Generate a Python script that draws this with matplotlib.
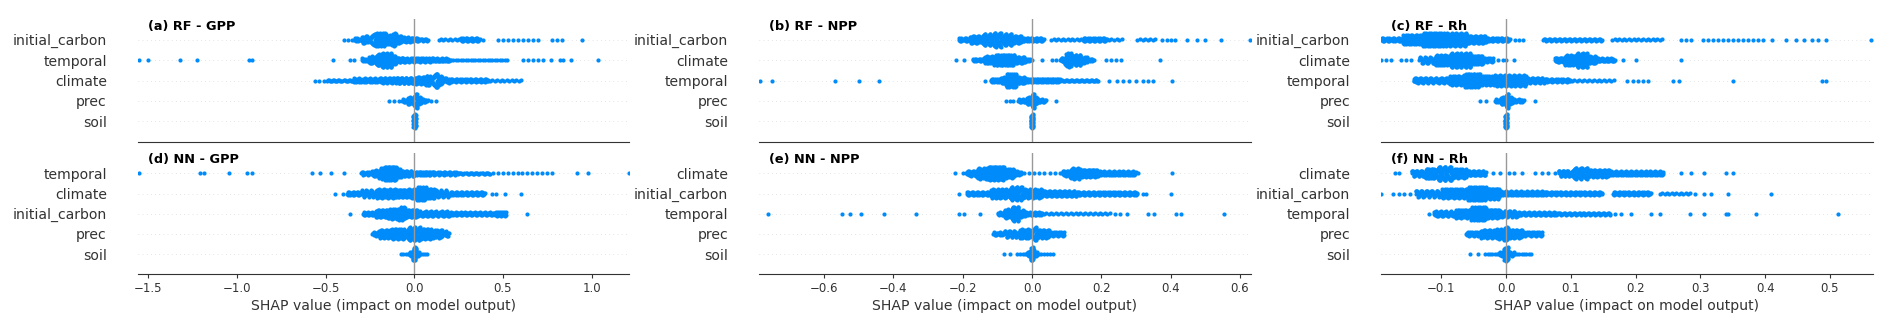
import numpy as np
import matplotlib
matplotlib.use("Agg")
import matplotlib.pyplot as plt

# ---------------- data ----------------
# Each row: dense segments (x0, x1, half-thickness in px as seen) + single outlier dots
titles = ["(a) RF - GPP", "(b) RF - NPP", "(c) RF - Rh",
          "(d) NN - GPP", "(e) NN - NPP", "(f) NN - Rh"]

features_a = ["initial_carbon", "temporal", "climate", "prec", "soil"]
features_b = ["initial_carbon", "climate", "temporal", "prec", "soil"]
features_c = ["initial_carbon", "climate", "temporal", "prec", "soil"]
features_d = ["temporal", "climate", "initial_carbon", "prec", "soil"]
features_e = ["climate", "initial_carbon", "temporal", "prec", "soil"]
features_f = ["climate", "initial_carbon", "temporal", "prec", "soil"]

# (a) RF - GPP
a_initial_carbon = [(-0.41, -0.34, 1.5), (-0.34, -0.30, 3), (-0.30, -0.26, 5), (-0.26, -0.22, 7),
                    (-0.22, -0.16, 8), (-0.16, -0.13, 6), (-0.13, -0.10, 7.5), (-0.10, -0.07, 5),
                    (-0.07, -0.02, 4), (-0.02, 0.03, 3), (0.03, 0.08, 2.5),
                    (0.13, 0.26, 2), (0.26, 0.37, 3), (0.37, 0.41, 1.5), (0.46, 0.71, 1.5),
                    (0.76, 0.85, 1.5)]
a_initial_carbon_out = [0.944]
a_temporal = [(-0.30, -0.26, 3), (-0.26, -0.23, 5), (-0.23, -0.20, 7), (-0.20, -0.13, 8.5),
              (-0.13, -0.10, 6), (-0.10, -0.05, 4), (-0.05, 0.10, 3.5), (0.10, 0.20, 3),
              (0.20, 0.53, 2), (0.60, 0.74, 1.5)]
a_temporal_out = [-1.552, -1.503, -1.321, -1.227, -0.932, -0.916, -0.46, -0.361, -0.338,
                  0.77, 0.82, 0.84, 0.886, 1.036]
a_climate = [(-0.575, -0.495, 1.5), (-0.495, -0.35, 2.5), (-0.35, -0.20, 3.5), (-0.20, -0.10, 4),
             (-0.10, 0.0, 4.5), (0.0, 0.06, 5), (0.06, 0.09, 6.5), (0.09, 0.13, 8.5),
             (0.13, 0.16, 6), (0.16, 0.20, 4), (0.20, 0.42, 3), (0.42, 0.61, 2)]
a_climate_out = []
a_prec = [(-0.16, -0.07, 1.5), (-0.07, -0.04, 3), (-0.04, -0.015, 5), (-0.015, 0.015, 8.5),
          (0.015, 0.04, 5), (0.04, 0.08, 3), (0.08, 0.138, 1.5)]
a_prec_out = []
a_soil = [(-0.008, 0.010, 8)]
a_soil_out = []

# (b) RF - NPP
b_initial_carbon = [(-0.213, -0.18, 3), (-0.18, -0.15, 5), (-0.15, -0.12, 7), (-0.12, -0.09, 8.5),
                    (-0.09, -0.06, 7), (-0.06, -0.03, 5), (-0.03, 0.034, 3),
                    (0.052, 0.146, 2), (0.146, 0.217, 3), (0.217, 0.264, 2),
                    (0.30, 0.36, 2), (0.37, 0.42, 1.5), (0.49, 0.51, 1.5)]
b_initial_carbon_out = [0.446, 0.476, 0.546, 0.629]
b_climate = [(-0.172, -0.14, 3), (-0.14, -0.11, 5.5), (-0.11, -0.05, 7.5), (-0.05, -0.02, 5),
             (-0.02, 0.0, 3), (0.081, 0.095, 4), (0.095, 0.115, 9), (0.115, 0.14, 7),
             (0.14, 0.16, 5), (0.16, 0.181, 3), (0.205, 0.264, 1.5)]
b_climate_out = [-0.22, -0.195, 0.028, 0.058, 0.07, 0.37]
b_temporal = [(-0.12, -0.09, 3.5), (-0.09, -0.075, 5), (-0.075, -0.045, 9), (-0.045, -0.02, 5),
              (-0.02, 0.08, 3.5), (0.08, 0.193, 2.5)]
b_temporal_out = [-0.786, -0.751, -0.57, -0.5, -0.443, -0.137, 0.223, 0.246, 0.262, 0.28,
                  0.30, 0.32, 0.335, 0.35, 0.405]
b_prec = [(-0.04, -0.015, 3), (-0.015, -0.005, 5), (-0.005, 0.005, 8.5), (0.005, 0.015, 5),
          (0.015, 0.04, 3)]
b_prec_out = [-0.075, -0.065, -0.054, 0.069]
b_soil = [(-0.004, 0.004, 8)]
b_soil_out = []

# (c) RF - Rh
c_initial_carbon = [(-0.193, -0.16, 3), (-0.16, -0.13, 6), (-0.13, -0.09, 8), (-0.09, -0.06, 7.5),
                    (-0.06, -0.031, 5), (-0.031, 0.006, 3), (0.01, 0.03, 1.5),
                    (0.056, 0.149, 2.5), (0.162, 0.243, 2), (0.267, 0.29, 1.5), (0.30, 0.40, 1.5)]
c_initial_carbon_out = [0.41, 0.432, 0.448, 0.46, 0.473, 0.482, 0.494, 0.564]
c_climate = [(-0.134, -0.11, 4.5), (-0.11, -0.09, 6.5), (-0.09, -0.055, 8.5), (-0.055, -0.035, 6),
             (-0.035, -0.019, 3.5), (0.075, 0.09, 4), (0.09, 0.105, 6.5), (0.105, 0.125, 8.5),
             (0.125, 0.14, 5), (0.14, 0.168, 3)]
c_climate_out = [-0.193, -0.185, -0.177, -0.162, -0.154, -0.146, -0.012, -0.005, 0.0, 0.012,
                 0.18, 0.20, 0.27]
c_temporal = [(-0.143, -0.087, 4), (-0.087, -0.065, 6), (-0.065, -0.04, 8), (-0.04, -0.02, 6),
              (-0.02, 0.031, 6.5), (0.031, 0.06, 4), (0.06, 0.10, 3), (0.10, 0.168, 2),
              (0.183, 0.224, 1.5)]
c_temporal_out = [0.258, 0.267, 0.35, 0.488, 0.494]
c_prec = [(-0.018, -0.008, 3), (-0.008, -0.003, 5), (-0.003, 0.003, 8.5), (0.003, 0.01, 5),
          (0.01, 0.028, 3)]
c_prec_out = [-0.04, -0.031, 0.044]
c_soil = [(-0.002, 0.002, 8)]
c_soil_out = []

# (d) NN - GPP
d_temporal = [(-0.30, -0.24, 3), (-0.24, -0.20, 5), (-0.20, -0.17, 7.5), (-0.17, -0.10, 9),
              (-0.10, -0.07, 6), (-0.07, 0.0, 4.5), (0.0, 0.10, 3.5), (0.10, 0.25, 3),
              (0.25, 0.43, 2.5), (0.43, 0.79, 1.5)]
d_temporal_out = [-1.551, -1.209, -1.186, -1.047, -0.944, -0.914, -0.576, -0.53, -0.472,
                  -0.398, 0.92, 0.98, 1.209]
d_climate = [(-0.38, -0.30, 3), (-0.30, -0.22, 4.5), (-0.22, -0.10, 5.5), (-0.10, -0.03, 5),
             (-0.03, 0.01, 6), (0.01, 0.07, 7.5), (0.07, 0.12, 6), (0.12, 0.20, 4.5),
             (0.20, 0.40, 3)]
d_climate_out = [-0.45, -0.40, 0.44, 0.46, 0.51, 0.60]
d_initial_carbon = [(-0.29, -0.22, 3), (-0.22, -0.15, 5), (-0.15, -0.09, 6.5), (-0.09, -0.05, 8),
                    (-0.05, 0.02, 5), (0.02, 0.20, 4), (0.20, 0.45, 3), (0.45, 0.52, 3.5)]
d_initial_carbon_out = [-0.36, 0.633]
d_prec = [(-0.24, -0.20, 3.5), (-0.20, -0.13, 5), (-0.13, -0.05, 6), (-0.05, 0.03, 7),
          (0.03, 0.10, 6), (0.10, 0.16, 5), (0.16, 0.196, 4)]
d_prec_out = []
d_soil = [(-0.08, -0.03, 2), (-0.03, -0.01, 3.5), (-0.01, 0.01, 7.5), (0.01, 0.03, 3.5),
          (0.03, 0.08, 2)]
d_soil_out = []

# (e) NN - NPP
e_climate = [(-0.19, -0.16, 4), (-0.16, -0.13, 6.5), (-0.13, -0.08, 8), (-0.08, -0.05, 6),
             (-0.05, -0.03, 3.5), (-0.03, 0.087, 1.5), (0.087, 0.11, 4), (0.11, 0.14, 6.5),
             (0.14, 0.19, 5), (0.19, 0.30, 3.5)]
e_climate_out = [-0.221, -0.2, 0.305, 0.405]
e_initial_carbon = [(-0.19, -0.12, 3), (-0.12, -0.07, 5), (-0.07, -0.03, 7), (-0.03, 0.03, 5),
                    (0.03, 0.13, 4), (0.13, 0.305, 3)]
e_initial_carbon_out = [-0.21, 0.32, 0.33, 0.40]
e_temporal = [(-0.10, -0.08, 3.5), (-0.08, -0.065, 6), (-0.065, -0.04, 8.5), (-0.04, -0.02, 5),
              (-0.02, 0.03, 3), (0.03, 0.228, 2)]
e_temporal_out = [-0.763, -0.549, -0.525, -0.493, -0.427, -0.334, -0.21, -0.195, -0.151,
                  0.24, 0.255, 0.275, 0.334, 0.352, 0.414, 0.43, 0.553]
e_prec = [(-0.113, -0.08, 3), (-0.08, -0.04, 4.5), (-0.04, -0.005, 5.5), (-0.005, 0.012, 7),
          (0.012, 0.05, 5), (0.05, 0.093, 3.5)]
e_prec_out = []
e_soil = [(-0.048, -0.015, 2), (-0.015, -0.005, 3.5), (-0.005, 0.005, 7.5), (0.005, 0.015, 3.5),
          (0.015, 0.064, 2)]
e_soil_out = [-0.081, -0.064]

# (f) NN - Rh
f_climate = [(-0.146, -0.125, 4.5), (-0.125, -0.11, 6.5), (-0.11, -0.085, 8.5), (-0.085, -0.06, 6),
             (-0.06, -0.031, 4), (0.081, 0.10, 4.5), (0.10, 0.125, 7), (0.125, 0.16, 5),
             (0.16, 0.243, 3.5)]
f_climate_out = [-0.171, -0.165, -0.02, -0.01, 0.005, 0.012, 0.025, 0.044, 0.056, 0.065,
                 0.075, 0.27, 0.286, 0.305, 0.34, 0.35]
f_initial_carbon = [(-0.14, -0.10, 4.5), (-0.10, -0.06, 6), (-0.06, -0.03, 8), (-0.03, -0.01, 6.5),
                    (-0.01, 0.06, 3.5), (0.06, 0.149, 3), (0.165, 0.224, 3), (0.236, 0.286, 2)]
f_initial_carbon_out = [-0.193, -0.174, -0.165, -0.157, -0.149, 0.292, 0.305, 0.316, 0.342, 0.409]
f_temporal = [(-0.112, -0.08, 4), (-0.08, -0.055, 5.5), (-0.055, -0.03, 8), (-0.03, -0.01, 5.5),
              (-0.01, 0.019, 4.5), (0.019, 0.08, 3), (0.08, 0.162, 2.5)]
f_temporal_out = [-0.119, 0.168, 0.178, 0.193, 0.224, 0.238, 0.284, 0.305, 0.339, 0.342,
                  0.386, 0.513]
f_prec = [(-0.062, -0.04, 3.5), (-0.04, -0.015, 5), (-0.015, -0.004, 6), (-0.004, 0.004, 7.5),
          (0.004, 0.025, 5), (0.025, 0.056, 3.5)]
f_prec_out = []
f_soil = [(-0.034, -0.012, 2), (-0.012, -0.004, 3.5), (-0.004, 0.004, 8), (0.004, 0.012, 3.5),
          (0.012, 0.04, 2)]
f_soil_out = [-0.055, -0.044]

xlims = [(-1.560, 1.213), (-0.788, 0.631), (-0.193, 0.566)]
xticks = [[-1.5, -1.0, -0.5, 0.0, 0.5, 1.0],
          [-0.6, -0.4, -0.2, 0.0, 0.2, 0.4, 0.6],
          [-0.1, 0.0, 0.1, 0.2, 0.3, 0.4, 0.5]]

G = globals()
panel_keys = ["a", "b", "c", "d", "e", "f"]

# ---------------- style ----------------
BLUE = "#008bfb"
AXC = "#333333"
W, H = 1892, 331
col_left = [137.7, 759.0, 1381.0]
col_w = 491.7
row_span = [(19.3, 141.7), (153.3, 274.3)]


def beeswarm(segs, outl, w):
    groups = []
    for x0, x1, h in segs:
        n = max(1, int(round((x1 - x0) / w)))
        bw = (x1 - x0) / n
        c = max(1, int(round(2 * (h - 1.5) * 2.5)))
        for j in range(n):
            lo = x0 + j * bw
            order = [(i * 7) % c for i in range(c)] if c % 7 else list(range(c))
            groups.append([lo + (order[i] + 0.5) * bw / c for i in range(c)])
    for x in outl:
        groups.append([x])
    X, Y = [], []
    for g in groups:
        for k, x in enumerate(g):
            X.append(x)
            Y.append(np.ceil(k / 2) * ((k % 2) * 2 - 1))
    X = np.array(X)
    Y = np.array(Y, dtype=float)
    Y *= 0.9 * 0.4 / np.max(Y + 1)
    return X, Y


fig = plt.figure(figsize=(W / 100, H / 100), dpi=100)

for p, key in enumerate(panel_keys):
    r, cidx = divmod(p, 3)
    top, bot = row_span[r]
    ax = fig.add_axes([col_left[cidx] / W, 1 - bot / H, col_w / W, (bot - top) / H])
    feats = G["features_" + key]
    xl = xlims[cidx]
    w = (xl[1] - xl[0]) / 100.0
    n = len(feats)
    for i, f in enumerate(feats):
        pos = n - 1 - i
        ax.axhline(pos, color="#cccccc", lw=0.5, dashes=(1, 5), zorder=-1)
        X, Y = beeswarm(G[key + "_" + f], G[key + "_" + f + "_out"], w)
        ax.scatter(X, pos + Y, s=9, color=BLUE, linewidth=0, zorder=2)
    ax.axvline(0, color="#999999", lw=1.0, zorder=3)
    ax.set_xlim(*xl)
    ax.set_ylim(-1, n)
    ax.set_yticks(range(n))
    ax.set_yticklabels(feats[::-1], fontsize=10.1, color=AXC)
    ax.yaxis.set_ticks_position("none")
    ax.tick_params(axis="y", pad=18.7)
    for s in ("left", "right", "top"):
        ax.spines[s].set_visible(False)
    ax.spines["bottom"].set_color(AXC)
    ax.spines["bottom"].set_linewidth(0.8)
    ax.set_xticks(xticks[cidx])
    ax.text(10 / col_w, 0.94 if r == 0 else 0.945, titles[p], transform=ax.transAxes,
            fontsize=9.3, fontweight="bold", va="center", ha="left", color="black")
    if r == 0:
        ax.tick_params(axis="x", length=0, labelbottom=False)
    else:
        ax.tick_params(axis="x", labelsize=8.5, color=AXC, labelcolor=AXC,
                       length=2.7, width=0.8, pad=2.7)
        ax.set_xticklabels([("%.1f" % t).replace("-", "\u2212") for t in xticks[cidx]])
        ax.set_xlabel("SHAP value (impact on model output)", fontsize=10.1, color=AXC,
                      labelpad=3.1)

fig.savefig("out.png", dpi=100)
